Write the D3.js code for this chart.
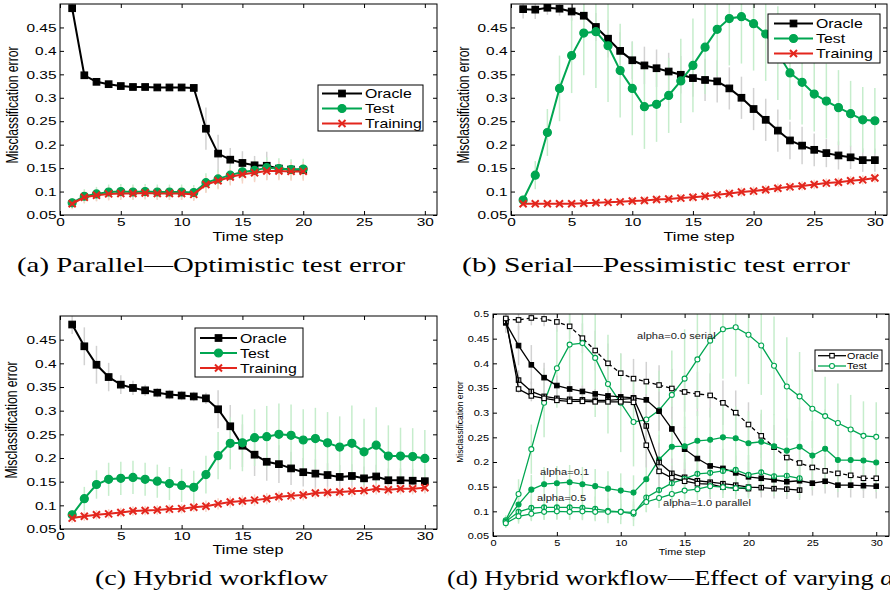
<!DOCTYPE html>
<html lang="en">
<head>
<meta charset="UTF-8">
<title>Misclassification error per time step</title>
<script src="https://d3js.org/d3.v7.min.js"></script>
<style>
  body { margin: 0; background: #fff; }
  svg { display: block; }
  .axis path { display: none; }
  .axis line { stroke: #000; }
  .axis text { fill: #000; }
  .caption { font-family: "Liberation Serif", "DejaVu Serif", serif; font-size: 21px; fill: #000; }
</style>
</head>
<body>
<svg id="fig" width="890" height="596"></svg>
<script>
const steps = [1,2,3,4,5,6,7,8,9,10,11,12,13,14,15,16,17,18,19,20,21,22,23,24,25,26,27,28,29,30];
const xTicks = [0, 5, 10, 15, 20, 25, 30];
const yTicks = [0.05, 0.1, 0.15, 0.2, 0.25, 0.3, 0.35, 0.4, 0.45];
const yTicksD = [0.05, 0.1, 0.15, 0.2, 0.25, 0.3, 0.35, 0.4, 0.45, 0.5];

// (a) parallel, 20 steps
const parallelOracle = [0.491,0.348,0.334,0.329,0.325,0.323,0.323,0.322,0.322,0.322,0.321,0.234,0.181,0.168,0.161,0.156,0.155,0.149,0.147,0.146];
const parallelTest   = [0.076,0.090,0.095,0.099,0.100,0.099,0.100,0.099,0.099,0.099,0.098,0.119,0.127,0.135,0.142,0.145,0.151,0.149,0.147,0.148];
const parallelTrain  = [0.074,0.088,0.092,0.095,0.096,0.096,0.097,0.096,0.096,0.096,0.094,0.115,0.123,0.131,0.137,0.140,0.144,0.144,0.143,0.143];
const parallelOracleErr = [0.01,0.008,0.006,0.005,0.004,0.004,0.004,0.004,0.004,0.004,0.004,0.045,0.04,0.025,0.025,0.02,0.03,0.01,0.01,0.01];
const parallelTestErr   = [0.01,0.015,0.015,0.016,0.016,0.016,0.016,0.016,0.016,0.016,0.016,0.02,0.02,0.02,0.02,0.022,0.022,0.022,0.022,0.022];
const parallelTrainErr  = [0.012,0.013,0.013,0.014,0.014,0.014,0.014,0.014,0.014,0.014,0.014,0.018,0.018,0.018,0.02,0.02,0.02,0.02,0.02,0.02];

// (b) serial, 30 steps
const serialOracle = [0.489,0.488,0.492,0.490,0.484,0.475,0.451,0.426,0.400,0.380,0.369,0.363,0.356,0.349,0.342,0.338,0.335,0.320,0.300,0.276,0.253,0.230,0.209,0.198,0.189,0.182,0.177,0.173,0.167,0.167];
const serialTest   = [0.082,0.135,0.226,0.320,0.390,0.438,0.441,0.411,0.358,0.320,0.281,0.286,0.305,0.336,0.369,0.408,0.446,0.469,0.473,0.458,0.436,0.395,0.353,0.333,0.308,0.293,0.279,0.266,0.253,0.251];
const serialTrain  = [0.074,0.074,0.074,0.074,0.074,0.075,0.076,0.077,0.078,0.080,0.081,0.083,0.084,0.086,0.088,0.090,0.093,0.096,0.099,0.101,0.104,0.107,0.110,0.112,0.115,0.118,0.120,0.123,0.125,0.129];
const serialOracleErr = [0.02,0.02,0.015,0.015,0.02,0.025,0.03,0.04,0.04,0.04,0.04,0.04,0.04,0.04,0.04,0.045,0.045,0.045,0.045,0.045,0.045,0.045,0.04,0.04,0.035,0.03,0.03,0.025,0.025,0.025];
const serialTestErr   = [0.01,0.03,0.05,0.07,0.08,0.09,0.12,0.12,0.1,0.1,0.09,0.08,0.08,0.09,0.1,0.1,0.1,0.1,0.1,0.1,0.1,0.1,0.1,0.09,0.08,0.08,0.08,0.07,0.07,0.07];
const serialTrainErr  = [0.006,0.006,0.006,0.006,0.006,0.007,0.007,0.007,0.007,0.008,0.008,0.008,0.008,0.008,0.009,0.009,0.009,0.009,0.01,0.01,0.01,0.01,0.01,0.01,0.01,0.01,0.01,0.01,0.01,0.01];

// (c) hybrid (alpha = 0.1), 30 steps
const hybridOracle = [0.482,0.436,0.397,0.371,0.355,0.348,0.343,0.338,0.334,0.332,0.330,0.326,0.303,0.267,0.226,0.207,0.192,0.187,0.178,0.170,0.167,0.164,0.160,0.162,0.157,0.161,0.153,0.153,0.152,0.151];
const hybridTest   = [0.080,0.114,0.144,0.155,0.157,0.159,0.155,0.151,0.146,0.142,0.138,0.165,0.205,0.231,0.232,0.243,0.245,0.250,0.248,0.238,0.241,0.232,0.223,0.231,0.213,0.227,0.204,0.204,0.203,0.199];
const hybridTrain  = [0.073,0.077,0.080,0.082,0.085,0.088,0.089,0.090,0.092,0.093,0.096,0.098,0.103,0.107,0.109,0.111,0.114,0.118,0.120,0.122,0.126,0.127,0.128,0.130,0.131,0.135,0.133,0.135,0.135,0.137];
const hybridOracleErr = [0.02,0.04,0.04,0.03,0.02,0.015,0.012,0.01,0.01,0.01,0.01,0.012,0.04,0.045,0.045,0.045,0.04,0.04,0.035,0.03,0.03,0.025,0.025,0.025,0.025,0.025,0.025,0.025,0.025,0.025];
const hybridTestErr   = [0.01,0.025,0.03,0.035,0.035,0.035,0.035,0.035,0.035,0.035,0.035,0.04,0.05,0.055,0.06,0.06,0.065,0.065,0.065,0.065,0.065,0.065,0.065,0.08,0.07,0.08,0.065,0.06,0.06,0.06];
const hybridTrainErr  = [0.01,0.01,0.01,0.01,0.01,0.01,0.01,0.01,0.01,0.01,0.01,0.012,0.012,0.012,0.012,0.012,0.012,0.012,0.012,0.012,0.012,0.012,0.012,0.012,0.012,0.012,0.012,0.012,0.012,0.012];

// (d) alpha = 0.5, 24 steps
const alpha05Oracle = [0.485,0.366,0.343,0.333,0.329,0.327,0.326,0.325,0.325,0.327,0.329,0.273,0.199,0.177,0.169,0.162,0.159,0.156,0.153,0.149,0.148,0.146,0.145,0.143];
const alpha05Test   = [0.079,0.099,0.107,0.108,0.108,0.108,0.107,0.105,0.101,0.099,0.095,0.128,0.143,0.157,0.166,0.176,0.178,0.182,0.184,0.174,0.179,0.171,0.172,0.167];
const alpha05OracleErr = [0.01,0.02,0.02,0.01,0.008,0.008,0.008,0.008,0.008,0.008,0.01,0.04,0.04,0.03,0.03,0.025,0.025,0.02,0.02,0.02,0.02,0.02,0.02,0.02];
const alpha05TestErr   = [0.01,0.02,0.025,0.025,0.025,0.025,0.025,0.025,0.025,0.025,0.025,0.03,0.035,0.04,0.04,0.04,0.04,0.04,0.04,0.04,0.04,0.04,0.04,0.04];

const BLACK = "#000", GREEN = "#00a651", RED = "#e3261d";
const ERR_GREY = "#d2d2d2", ERR_GREEN = "#c6edcc", ERR_RED = "#f7d3c6";
const SANS = "'Liberation Sans', Arial, sans-serif";

const svg = d3.select("#fig");

function big(values, err, kind) {
  // the three-series style used in panels a, b, c
  if (kind === "oracle") return {values, err, color: BLACK, errColor: ERR_GREY, marker: "square", fill: "solid", size: 6.5, lw: 2, name: "Oracle"};
  if (kind === "test") return {values, err, color: GREEN, errColor: ERR_GREEN, marker: "circle", fill: "solid", size: 8, lw: 2, name: "Test"};
  return {values, err, color: RED, errColor: ERR_RED, marker: "x", fill: "solid", size: 7, lw: 2, name: "Training"};
}
function small(values, err, kind, fill, dash) {
  const o = kind === "oracle";
  return {values, err, color: o ? BLACK : GREEN, errColor: o ? ERR_GREY : ERR_GREEN,
          marker: o ? "square" : "circle", fill, dash, size: o ? 4.5 : 5, lw: 1.3, mw: 1.1, name: o ? "Oracle" : "Test"};
}

const bigFont = {tick: 11.6, tickSx: 1.33, yPad: 3.5, xPad: 2.5, xlab: 12, xlabSx: 1.36, ylab: 12.2, ylabSy: 1.3, leg: 13, legSx: 1.22};
const smallFont = {tick: 9.3, tickSx: 1.18, yPad: 4, xPad: 3, xlab: 9.5, xlabSx: 1.13, ylab: 8.5, ylabSy: 1.1, leg: 8.5, legSx: 1.27};

const panels = [
  {left: 60, right: 437, top: 4, bottom: 215, yTicks, font: bigFont,
   xlab: [248, 241], ylab: [18, 105],
   series: [big(parallelOracle, parallelOracleErr, "oracle"), big(parallelTest, parallelTestErr, "test"), big(parallelTrain, parallelTrainErr, "train")],
   legend: {x: 318, y: 85, w: 105, h: 46, rows: [93.5, 108.5, 123.5], l1: 322, l2: 362, tx: 365},
   caption: {x: 17, y: 272, len: 388, text: "(a) Parallel\u2014Optimistic test error"}},
  {left: 511, right: 887, top: 4, bottom: 215, yTicks, font: bigFont,
   xlab: [699, 241], ylab: [469, 105],
   series: [big(serialOracle, serialOracleErr, "oracle"), big(serialTest, serialTestErr, "test"), big(serialTrain, serialTrainErr, "train")],
   legend: {x: 768, y: 14, w: 112, h: 49, rows: [23.5, 38.5, 53.5], l1: 774, l2: 813, tx: 816},
   caption: {x: 462, y: 272, len: 388, text: "(b) Serial\u2014Pessimistic test error"}},
  {left: 60, right: 437, top: 316, bottom: 529, yTicks, font: bigFont,
   xlab: [248, 554], ylab: [17, 420],
   series: [big(hybridOracle, hybridOracleErr, "oracle"), big(hybridTest, hybridTestErr, "test"), big(hybridTrain, hybridTrainErr, "train")],
   legend: {x: 195, y: 328, w: 108, h: 49, rows: [338, 353, 368], l1: 200, l2: 237, tx: 240},
   caption: {x: 95, y: 585, len: 233, text: "(c) Hybrid workflow"}},
  {left: 493, right: 889, top: 314, bottom: 536, yTicks: yTicksD, font: smallFont,
   xlab: [682, 555], ylab: [463, 422],
   series: [small(serialOracle, serialOracleErr, "oracle", "open", "4,3"), small(serialTest, serialTestErr, "test", "open"),
            small(hybridOracle, hybridOracleErr, "oracle", "solid"), small(hybridTest, hybridTestErr, "test", "solid"),
            small(alpha05Oracle, alpha05OracleErr, "oracle", "half"), small(alpha05Test, alpha05TestErr, "test", "half"),
            small(parallelOracle, parallelOracleErr, "oracle", "open"), small(parallelTest, parallelTestErr, "test", "open")],
   legendSeries: [small([], null, "oracle", "open"), small([], null, "test", "open")],
   legend: {x: 815, y: 350, w: 67, h: 21, rows: [355.7, 366], l1: 818, l2: 846, tx: 847},
   notes: [["alpha=0.0 serial", 637, 338.5], ["alpha=0.1", 540, 475], ["alpha=0.5", 537, 501], ["alpha=1.0 parallel", 663, 506]],
   caption: {x: 447, y: 585, len: 447, text: "(d) Hybrid workflow\u2014Effect of varying ", greek: "\u03b1"}}
];

function addMarker(sel, s) {
  const r = s.size / 2, mw = s.mw || 1.2;
  const fill = s.fill === "solid" ? s.color : "#fff";
  if (s.marker === "square") {
    sel.append("rect").attr("x", -r).attr("y", -r).attr("width", s.size).attr("height", s.size)
      .attr("fill", fill).attr("stroke", s.color).attr("stroke-width", mw);
  } else if (s.marker === "circle") {
    sel.append("circle").attr("r", r).attr("fill", fill).attr("stroke", s.color).attr("stroke-width", mw);
  } else {
    sel.append("path").attr("d", `M${-r},${-r}L${r},${r}M${-r},${r}L${r},${-r}`)
      .attr("stroke", s.color).attr("stroke-width", 2).attr("fill", "none");
  }
  if (s.fill === "half") {
    sel.append("line").attr("y1", -r).attr("y2", r).attr("stroke", s.color).attr("stroke-width", 1.6);
  }
}

function drawPanel(p, idx) {
  const f = p.font;
  const x = d3.scaleLinear().domain([0, 31]).range([p.left, p.right]);
  const y = d3.scaleLinear().domain([0.05, 0.5]).range([p.bottom, p.top]);
  const g = svg.append("g");

  const clipId = "clip" + idx;
  g.append("clipPath").attr("id", clipId).append("rect")
    .attr("x", p.left).attr("y", p.top).attr("width", p.right - p.left).attr("height", p.bottom - p.top);
  const plot = g.append("g").attr("clip-path", `url(#${clipId})`);

  // error bars behind everything
  p.series.forEach(s => {
    plot.append("g").selectAll("line").data(s.values).join("line")
      .attr("x1", (d, i) => x(steps[i])).attr("x2", (d, i) => x(steps[i]))
      .attr("y1", (d, i) => y(d - s.err[i])).attr("y2", (d, i) => y(d + s.err[i]))
      .attr("stroke", s.errColor).attr("stroke-width", 1.5);
  });

  const line = d3.line().x((d, i) => x(steps[i])).y(d => y(d));
  p.series.forEach(s => {
    plot.append("path").datum(s.values).attr("d", line)
      .attr("fill", "none").attr("stroke", s.color).attr("stroke-width", s.lw)
      .attr("stroke-dasharray", s.dash || null);
    const m = plot.append("g").selectAll("g").data(s.values).join("g")
      .attr("transform", (d, i) => `translate(${x(steps[i])},${y(d)})`);
    addMarker(m, s);
  });

  // axes, ticks pointing inward on all four sides
  const gl = g.append("g").attr("class", "axis").attr("transform", `translate(${p.left},0)`)
    .call(d3.axisLeft(y).tickValues(p.yTicks).tickSizeInner(-4).tickSizeOuter(0).tickPadding(f.yPad).tickFormat(String));
  gl.selectAll("text").attr("font-size", f.tick).attr("font-family", SANS)
    .attr("x", -f.yPad / f.tickSx).attr("transform", `scale(${f.tickSx},1)`);
  const gb = g.append("g").attr("class", "axis").attr("transform", `translate(0,${p.bottom})`)
    .call(d3.axisBottom(x).tickValues(xTicks).tickSizeInner(-4).tickSizeOuter(0).tickPadding(f.xPad));
  gb.selectAll("text").attr("font-size", f.tick).attr("font-family", SANS).attr("transform", `scale(${f.tickSx},1)`);
  g.append("g").attr("class", "axis").attr("transform", `translate(${p.right},0)`)
    .call(d3.axisRight(y).tickValues(p.yTicks).tickSizeInner(-4).tickSizeOuter(0).tickFormat(""));
  g.append("g").attr("class", "axis").attr("transform", `translate(0,${p.top})`)
    .call(d3.axisTop(x).tickValues(xTicks).tickSizeInner(-4).tickSizeOuter(0).tickFormat(""));
  g.append("rect").attr("x", p.left).attr("y", p.top).attr("width", p.right - p.left).attr("height", p.bottom - p.top)
    .attr("fill", "none").attr("stroke", "#000").attr("stroke-width", 1);

  g.append("text").attr("transform", `translate(${p.xlab[0]},${p.xlab[1]}) scale(${f.xlabSx},1)`)
    .attr("text-anchor", "middle").attr("font-family", SANS).attr("font-size", f.xlab).text("Time step");
  g.append("text").attr("transform", `translate(${p.ylab[0]},${p.ylab[1]}) rotate(-90) scale(1,${f.ylabSy})`)
    .attr("text-anchor", "middle").attr("font-family", SANS).attr("font-size", f.ylab).text("Misclassification error");

  (p.notes || []).forEach(n => {
    g.append("text").attr("transform", `translate(${n[1]},${n[2]}) scale(1.17,1)`)
      .attr("font-family", SANS).attr("font-size", 9.5).attr("fill", "#222").text(n[0]);
  });

  // legend
  const L = p.legend;
  const lg = g.append("g");
  lg.append("rect").attr("x", L.x).attr("y", L.y).attr("width", L.w).attr("height", L.h)
    .attr("fill", "#fff").attr("stroke", "#000").attr("stroke-width", 1);
  const items = p.legendSeries || p.series;
  items.forEach((s, i) => {
    const cy = L.rows[i];
    lg.append("line").attr("x1", L.l1).attr("x2", L.l2).attr("y1", cy).attr("y2", cy)
      .attr("stroke", s.color).attr("stroke-width", s.lw);
    addMarker(lg.append("g").attr("transform", `translate(${(L.l1 + L.l2) / 2},${cy})`), s);
    lg.append("text").attr("transform", `translate(${L.tx},${cy}) scale(${f.legSx},1)`)
      .attr("dy", "0.36em").attr("font-family", SANS).attr("font-size", f.leg).text(s.name);
  });

  const c = p.caption;
  const ct = svg.append("text").attr("class", "caption").attr("x", c.x).attr("y", c.y)
    .attr("textLength", c.len).attr("lengthAdjust", "spacingAndGlyphs");
  ct.append("tspan").text(c.text);
  if (c.greek) ct.append("tspan").attr("font-style", "italic").text(c.greek);
}

panels.forEach(drawPanel);
</script>
</body>
</html>
